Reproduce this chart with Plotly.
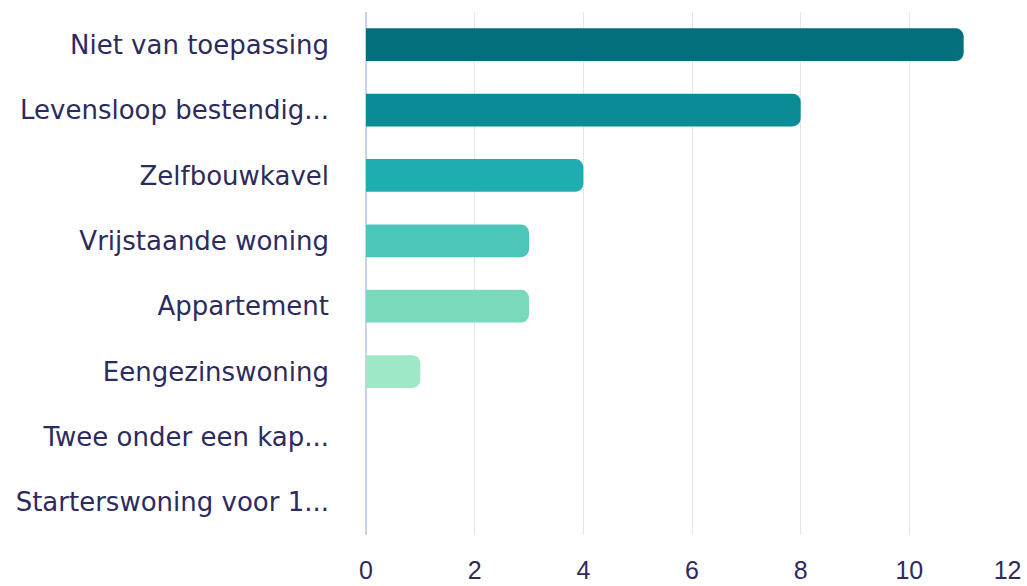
import plotly.graph_objects as go

categories = [
    "Niet van toepassing",
    "Levensloop bestendig...",
    "Zelfbouwkavel",
    "Vrijstaande woning",
    "Appartement",
    "Eengezinswoning",
    "Twee onder een kap...",
    "Starterswoning voor 1...",
]
counts = [11, 8, 4, 3, 3, 1, 0, 0]
colors = ["#036e7c", "#0b8b96", "#1eadb0", "#4cc6b8", "#7ad9bd", "#9fe8c5", "#b8efd3", "#cdf4df"]
x_ticks = [0, 2, 4, 6, 8, 10, 12]
# last label padded so it stays inside the page, as in the original
x_tick_text = ["0", "2", "4", "6", "8", "10", "12\u00a0\u00a0\u00a0"]

fig = go.Figure()
fig.add_trace(
    go.Bar(
        x=counts,
        y=categories,
        orientation="h",
        marker=dict(color=colors, cornerradius=8, line=dict(width=0)),
        hoverinfo="x+y",
    )
)

fig.update_layout(
    width=1027,
    height=586,
    margin=dict(l=366, r=9, t=12, b=51),
    paper_bgcolor="white",
    plot_bgcolor="white",
    font=dict(family="DejaVu Sans, sans-serif", size=26, color="#2d2a5e"),
    bargap=0.5,
    showlegend=False,
    xaxis=dict(
        range=[0, 12],
        tickvals=x_ticks,
        ticktext=x_tick_text,
        showgrid=True,
        gridcolor="#e6e6e6",
        gridwidth=1,
        zeroline=True,
        zerolinecolor="#c8d3ea",
        zerolinewidth=1.5,
        showline=False,
        ticks="",
        automargin=False,
        ticklabeloverflow="allow",
        ticklabelstandoff=18,
        tickfont=dict(family="Liberation Sans, sans-serif", size=25),
    ),
    yaxis=dict(
        categoryorder="array",
        categoryarray=categories[::-1],
        showgrid=False,
        showline=False,
        ticks="",
        automargin=False,
        ticklabelstandoff=36,
        tickfont=dict(size=26),
    ),
)

# page body has a default 8px margin; remove it so the figure sits at 0,0
fig.write_html(
    "out.html",
    config={"displayModeBar": False},
    post_script="document.body.style.margin='0';",
)
